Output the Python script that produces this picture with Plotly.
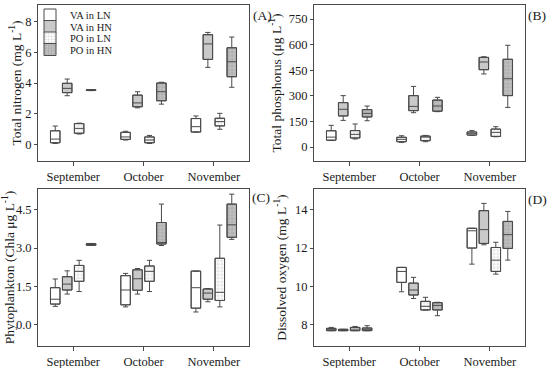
import plotly.graph_objects as go

# ---------------- data ----------------
months = ["September", "October", "November"]
series = ["VA in LN", "VA in HN", "PO in LN", "PO in HN"]

# rows = series (VA LN, VA HN, PO LN, PO HN), cols = months
# Total nitrogen (mg L-1)
tn_min = [[0.05, 0.28, 0.80], [3.17, 2.38, 5.02], [0.67, 0.05, 0.98], [3.50, 2.62, 3.72]]
tn_q1 = [[0.10, 0.32, 0.80], [3.37, 2.45, 5.54], [0.72, 0.10, 1.20], [3.52, 2.84, 4.41]]
tn_med = [[0.34, 0.48, 1.15], [3.65, 2.70, 6.55], [1.04, 0.28, 1.48], [3.54, 3.43, 5.39]]
tn_q3 = [[0.88, 0.78, 1.68], [3.98, 3.21, 7.15], [1.35, 0.48, 1.70], [3.56, 4.00, 6.30]]
tn_max = [[1.19, 0.85, 1.85], [4.26, 3.43, 7.30], [1.38, 0.58, 2.02], [3.57, 4.05, 7.00]]

# Total phosphorus (ug L-1)
tp_min = [[38, 27, 68], [156, 201, 428], [47, 31, 60], [154, 207, 232]]
tp_q1 = [[40, 31, 70], [182, 213, 453], [53, 37, 62], [176, 210, 301]]
tp_med = [[58, 45, 80], [221, 238, 498], [74, 58, 86], [197, 240, 400]]
tp_q3 = [[95, 57, 88], [260, 301, 525], [96, 64, 105], [219, 275, 514]]
tp_max = [[127, 66, 96], [301, 355, 529], [135, 68, 119], [240, 291, 596]]

# Phytoplankton (Chla ug L-1)
ch_min = [[0.72, 0.70, 0.50], [1.20, 1.20, 0.90], [1.30, 1.30, 0.70], [3.10, 3.10, 3.34]]
ch_q1 = [[0.81, 0.78, 0.65], [1.36, 1.35, 1.00], [1.70, 1.70, 0.95], [3.11, 3.16, 3.42]]
ch_med = [[1.00, 1.36, 1.45], [1.59, 1.80, 1.24], [2.09, 2.09, 1.27], [3.14, 3.22, 3.91]]
ch_q3 = [[1.45, 1.92, 2.10], [1.88, 2.15, 1.40], [2.32, 2.30, 2.60], [3.17, 4.00, 4.72]]
ch_max = [[1.79, 2.01, 2.10], [2.11, 2.20, 1.42], [2.52, 2.52, 3.90], [3.18, 4.72, 5.11]]

# Dissolved oxygen (mg L-1)
do_min = [[7.69, 9.72, 11.16], [7.69, 9.37, 12.17], [7.69, 8.77, 10.64], [7.69, 8.47, 11.37]]
do_q1 = [[7.69, 10.21, 12.00], [7.69, 9.55, 12.24], [7.69, 8.77, 10.78], [7.69, 8.77, 11.98]]
do_med = [[7.74, 10.78, 12.90], [7.72, 9.81, 12.96], [7.77, 8.96, 11.37], [7.76, 9.01, 12.70]]
do_q3 = [[7.81, 10.99, 13.03], [7.76, 10.17, 13.95], [7.86, 9.22, 12.03], [7.83, 9.15, 13.39]]
do_max = [[7.86, 10.99, 13.03], [7.76, 10.47, 14.33], [7.91, 9.43, 12.30], [7.95, 9.17, 13.91]]

y_titles = ["Total nitrogen (mg L<sup>-1</sup>)",
            "Total phosphorus (μg L<sup>-1</sup>)",
            "Phytoplankton (Chla μg L<sup>-1</sup>)",
            "Dissolved oxygen (mg L<sup>-1</sup>)"]
panel_labels = ["(A)", "(B)", "(C)", "(D)"]

# ---------------- style / layout ----------------
W, H = 550, 368
FONT = "Liberation Serif"
edge = "#4a4a4a"
fills = ["#ffffff", "#c9c9c9", "#ffffff", "#c2c2c2"]
pattern_fg = [None, None, "#a8a8a8", "#7c7c7c"]
offsets = [-0.255, -0.085, 0.085, 0.255]
box_w = 0.135

panel_stats = [
    (tn_min, tn_q1, tn_med, tn_q3, tn_max),
    (tp_min, tp_q1, tp_med, tp_q3, tp_max),
    (ch_min, ch_q1, ch_med, ch_q3, ch_max),
    (do_min, do_q1, do_med, do_q3, do_max),
]
# pixel frames (left, right, top, bottom)
frames = [(38, 249, 5, 161), (314, 525, 5, 161), (38, 249, 189, 346), (314, 525, 189, 346)]
y_ranges = [[-1.09, 9.09], [-82, 832], [-0.83, 5.31], [6.89, 15.08]]
y_dticks = [2, 150, 1.5, 2]
y_tick0 = [0, 0, 0, 8]
y_fmt = ["", "", ".1f", ""]
title_standoff = [0, 4, 5, 5]
label_pos = [(262, 15), (537, 15), (261, 198), (537, 199)]

legend_keys = ["legend", "legend2", "legend3", "legend4"]
legend_centers = [15, 26.5, 38, 49.5]

fig = go.Figure()
axes = [("x", "y"), ("x2", "y2"), ("x3", "y3"), ("x4", "y4")]

for p, stats in enumerate(panel_stats):
    xa, ya = axes[p]
    lo_all, q1_all, med_all, q3_all, hi_all = stats
    for s in range(4):
        xs = [m + 1 + offsets[s] for m in range(len(months))]
        lo, q1, med, q3, hi = lo_all[s], q1_all[s], med_all[s], q3_all[s], hi_all[s]
        marker = dict(color=fills[s], line=dict(color=edge, width=1))
        if pattern_fg[s]:
            marker["pattern"] = dict(shape="+", fgcolor=pattern_fg[s], bgcolor=fills[s],
                                     size=3.5, solidity=0.3, fillmode="overlay")
        fig.add_trace(go.Bar(
            x=xs, y=[b - a for a, b in zip(q1, q3)], base=q1, width=box_w,
            marker=marker, xaxis=xa, yaxis=ya, name=series[s],
            showlegend=(p == 0), legend=legend_keys[s], hoverinfo="skip"))
        fig.add_trace(go.Box(
            x=xs, q1=q1, median=med, q3=q3, lowerfence=lo, upperfence=hi,
            width=box_w, whiskerwidth=0.55, fillcolor="rgba(0,0,0,0)",
            line=dict(color=edge, width=1), xaxis=xa, yaxis=ya,
            showlegend=False, hoverinfo="skip"))

layout = dict(
    width=W, height=H, margin=dict(l=0, r=0, t=0, b=0),
    paper_bgcolor="white", plot_bgcolor="white",
    font=dict(family=FONT, size=12.5, color="#1a1a1a"),
    barmode="overlay", boxmode="overlay",
    annotations=[],
)

for p in range(4):
    l, r, t, b = frames[p]
    xs = "" if p == 0 else str(p + 1)
    layout["xaxis" + xs] = dict(
        domain=[l / W, r / W], anchor="y" + xs, range=[0.5, 3.5],
        tickvals=[1, 2, 3], ticktext=months, ticks="outside", ticklen=4,
        tickcolor=edge, showline=True, linecolor=edge, linewidth=1, mirror=True,
        showgrid=False, zeroline=False, automargin=False,
        tickfont=dict(size=12.5))
    layout["yaxis" + xs] = dict(
        domain=[1 - b / H, 1 - t / H], anchor="x" + xs, range=y_ranges[p],
        tick0=y_tick0[p], dtick=y_dticks[p], tickformat=y_fmt[p],
        ticks="outside", ticklen=3, tickcolor=edge, showline=True,
        linecolor=edge, linewidth=1, mirror=True, showgrid=False,
        zeroline=False, automargin=False, tickfont=dict(size=12.5),
        title=dict(text=y_titles[p], font=dict(size=13.5), standoff=title_standoff[p]))
    lx, ly = label_pos[p]
    layout["annotations"].append(dict(
        text=panel_labels[p], x=lx / W, y=1 - ly / H, xref="paper", yref="paper",
        showarrow=False, font=dict(size=13.5), xanchor="center", yanchor="middle"))

for i, key in enumerate(legend_keys):
    layout[key] = dict(
        x=30 / W, y=1 - legend_centers[i] / H, xanchor="left", yanchor="middle",
        bgcolor="rgba(0,0,0,0)", borderwidth=0, font=dict(size=10.5),
        itemwidth=30, tracegroupgap=0)

fig.update_layout(**layout)
fig.write_html("out.html", config={"displayModeBar": False},
               post_script="document.body.style.margin='0';document.body.style.padding='0';")
